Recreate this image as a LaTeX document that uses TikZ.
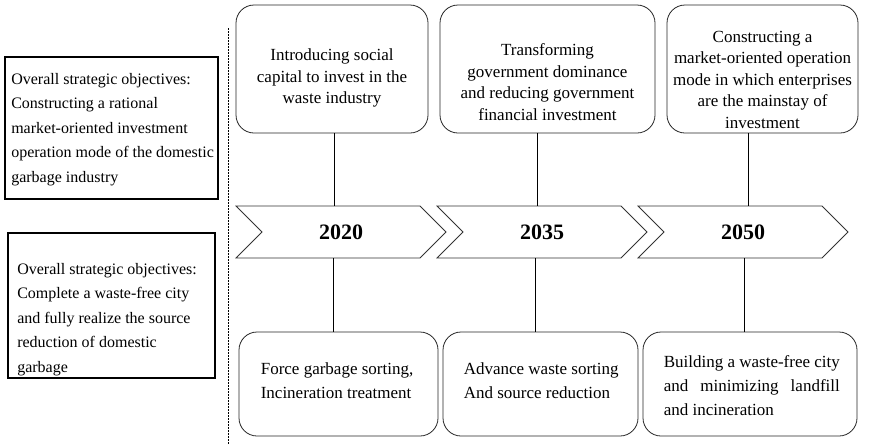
\documentclass[tikz,border=0pt]{standalone}
\usepackage{fontspec}
\setmainfont{Liberation Serif}
\usetikzlibrary{positioning,shapes.symbols}

\begin{document}
\begin{tikzpicture}[
x=1pt, y=-1pt,
goalbox/.style={
    rectangle,
    draw=black,
    line width=1.8pt,
    inner sep=0pt
},
goaltext/.style={
    inner sep=0pt,
    align=left,
    font=\fontsize{16}{24.5}\selectfont
},
stagebox/.style={
    rectangle,
    rounded corners=18pt,
    draw=black!85,
    line width=0.8pt,
    minimum height=128pt,
    inner sep=0pt
},
stagetext/.style={
    inner sep=0pt,
    align=center,
    font=\fontsize{17}{21.5}\selectfont
},
taskbox/.style={
    rectangle,
    rounded corners=18pt,
    draw=black!85,
    line width=0.8pt,
    minimum height=104pt,
    inner sep=0pt
},
tasktext/.style={
    inner sep=0pt,
    align=left,
    font=\fontsize{17}{24}\selectfont
},
yearbox/.style={
    signal,
    signal from=west,
    signal to=east,
    draw=black!80,
    line width=0.8pt,
    minimum width=210pt,
    minimum height=52pt,
    inner sep=0pt,
    font=\fontsize{22}{26}\selectfont\bfseries
},
link/.style={
    draw=black,
    line width=0.8pt
},
divider/.style={
    draw=black,
    line width=0.8pt,
    dash pattern=on 1.5pt off 1.5pt
}
]

\useasboundingbox (0,0) rectangle (870,445);

% Overall objectives
\node[goalbox,minimum width=213pt,minimum height=142pt] (goalA) at (111.5,128) {};
\node[goaltext,anchor=north west] (goalAtext) at ([shift={(7pt,-17pt)}]goalA.north west)
{Overall strategic objectives:\\Constructing a rational\\market-oriented investment\\operation mode of the domestic\\garbage industry};

\node[goalbox,minimum width=207pt,minimum height=145pt] (goalB) at (111.5,305.5) {};
\node[goaltext,anchor=north west] (goalBtext) at ([shift={(10pt,-31pt)}]goalB.north west)
{Overall strategic objectives:\\Complete a waste-free city\\and fully realize the source\\reduction of domestic\\garbage};

\coordinate (divtop) at (228,28);
\coordinate (divbot) at (228,445);
\draw[divider] (divtop) -- (divbot);

% Timeline
\node[yearbox] (yearA) at (341,232) {2020};
\node[yearbox] (yearB) at (542,232) {2035};
\node[yearbox] (yearC) at (743,232) {2050};

% Investment stages
\node[stagebox,minimum width=192pt] (topA) at (332,69) {};
\node[stagetext,below=44pt of topA.north] (topAtext)
{Introducing social\\capital to invest in the\\waste industry};

\node[stagebox,minimum width=215pt] (topB) at (547.5,69) {};
\node[stagetext,below=39pt of topB.north] (topBtext)
{Transforming\\government dominance\\and reducing government\\financial investment};

\node[stagebox,minimum width=191pt] (topC) at (762.5,69) {};
\node[stagetext,below=26pt of topC.north] (topCtext)
{Constructing a\\market-oriented operation\\mode in which enterprises\\are the mainstay of\\investment};

% Waste treatment
\node[taskbox,minimum width=199pt] (botA) at (338.5,384) {};
\node[tasktext,anchor=north west] (botAtext) at ([shift={(22pt,-31pt)}]botA.north west)
{Force garbage sorting,\\Incineration treatment};

\node[taskbox,minimum width=195pt] (botB) at (540.5,384) {};
\node[tasktext,anchor=north west] (botBtext) at ([shift={(21pt,-31pt)}]botB.north west)
{Advance waste sorting\\And source reduction};

\node[taskbox,minimum width=214pt] (botC) at (750,384) {};
\node[tasktext,anchor=north west] (botCtext) at ([shift={(21pt,-24pt)}]botC.north west)
{Building a waste-free city\\\makebox[176pt][s]{and minimizing landfill}\\and incineration};

% Connections
\draw[link] ([xshift=2pt]topA.south) -- ([xshift=-7pt]yearA.north);
\draw[link] ([xshift=-10.5pt]topB.south) -- ([xshift=-5pt]yearB.north);
\draw[link] ([xshift=-14.5pt]topC.south) -- ([xshift=5pt]yearC.north);

\draw[link] ([xshift=-8pt]yearA.south) -- ([xshift=-5.5pt]botA.north);
\draw[link] ([xshift=-7pt]yearB.south) -- ([xshift=-5.5pt]botB.north);
\draw[link] ([xshift=1pt]yearC.south) -- ([xshift=-6pt]botC.north);

\end{tikzpicture}
\end{document}
